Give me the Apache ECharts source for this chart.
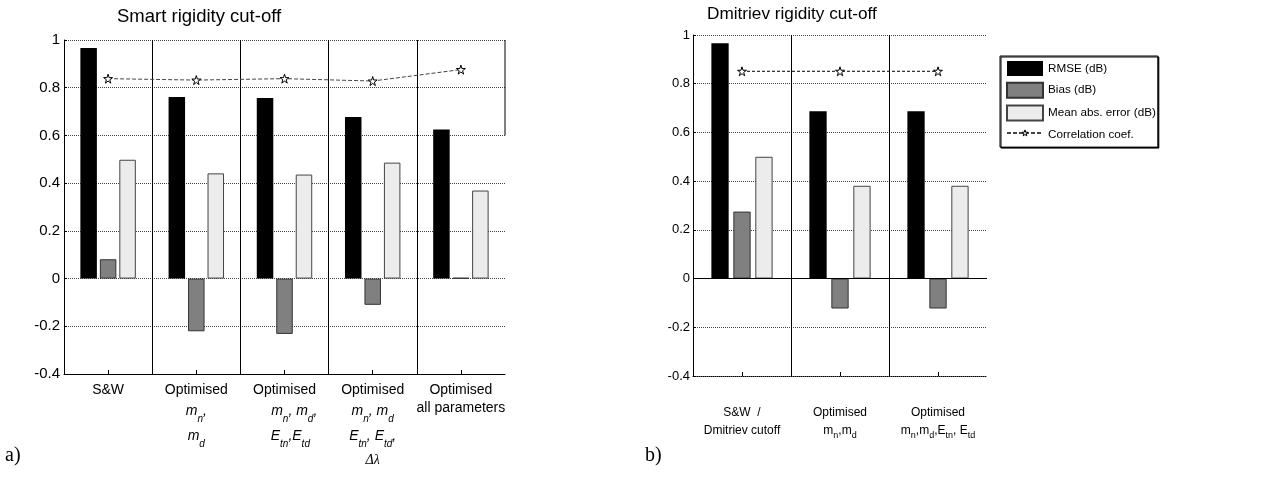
<!DOCTYPE html>
<html>
<head>
<meta charset="utf-8">
<script src="https://cdn.jsdelivr.net/npm/echarts@6/dist/echarts.min.js"></script>
<style>
  html, body { margin: 0; background: #fff; }
  #chart { width: 1284px; height: 485px; }
</style>
</head>
<body>
<div id="chart"></div>
<script>
// categories (rich text markup for the sub/italic parts)
const smartCats = [
  'S&W',
  'Optimised\n{i|m}{s|n}{i|,}\n{i|m}{s|d}',
  'Optimised\n     {i|m}{s|n}{i|, m}{s|d}{i|,}\n   {i|E}{s|tn}{i|,E}{s|td}',
  'Optimised\n{i|m}{s|n}{i|, m}{s|d}\n{i|E}{s|tn}{i|, E}{s|td}{i|,}\n{g|Δλ}',
  'Optimised\nall parameters'
]
const dmitCats = [
  'S&W  /\nDmitriev cutoff',
  'Optimised\nm{s|n},m{s|d}',
  'Optimised\nm{s|n},m{s|d},E{s|tn}, E{s|td}'
]

// values
const smartRmse = [0.966, 0.761, 0.757, 0.677, 0.625]
const smartBias = [0.081, -0.221, -0.232, -0.110, 0.003]
const smartMae  = [0.498, 0.441, 0.436, 0.486, 0.369]
const smartCorr = [0.838, 0.832, 0.838, 0.828, 0.876]

const dmitRmse = [0.966, 0.687, 0.687]
const dmitBias = [0.275, -0.123, -0.123]
const dmitMae  = [0.500, 0.381, 0.381]
const dmitCorr = [0.851, 0.851, 0.851]

const yTicks = [-0.4, -0.2, 0, 0.2, 0.4, 0.6, 0.8, 1]
// stray right border piece of plot a), in axis units
const edgeSeg = [[5, 1], [5, 0.6]]

const names = ['RMSE (dB)', 'Bias (dB)', 'Mean abs. error (dB)', 'Correlation coef.']

const FONT = 'Liberation Sans, Arial, sans-serif'
const STAR = 'path://M50,0 L61,35 L98,35 L68,57 L79,91 L50,70 L21,91 L32,57 L2,35 L39,35 Z'
const CLEAR = 'rgba(0,0,0,0)'

let myChart = echarts.init(document.getElementById('chart'))

function yAxisOpt(gi, fs, margin) {
  return {
    gridIndex: gi, type: 'value',
    min: yTicks[0], max: yTicks[yTicks.length - 1], interval: 0.2,
    axisLine: { show: true, lineStyle: { color: '#000', width: 1 } },
    axisTick: { show: true, inside: true, length: 3, lineStyle: { color: '#000' } },
    axisLabel: {
      color: '#000', fontFamily: FONT, fontSize: fs, margin: margin,
      formatter: v => String(+v.toFixed(1))
    },
    splitLine: { show: true, lineStyle: { color: '#444', type: 'dotted', width: 1 } }
  }
}

function xAxisOpt(gi, cats, label, lineType) {
  return {
    gridIndex: gi, type: 'category', data: cats,
    axisLine: { show: true, onZero: false, lineStyle: { color: '#000', width: 1, type: lineType } },
    axisTick: { show: true, inside: true, alignWithLabel: true, length: 4, lineStyle: { color: '#000' } },
    axisLabel: label,
    splitLine: { show: true, showMinLine: false, showMaxLine: false, lineStyle: { color: '#000', width: 1 } }
  }
}

const barA = { barWidth: 16.5, barGap: '18%' }
const barB = { barWidth: 17.3, barGap: '27%' }

let option = {
  animation: false,
  title: [
    { text: 'Smart rigidity cut-off', left: 117, top: 7, padding: 0,
      textStyle: { fontFamily: FONT, fontSize: 18.5, fontWeight: 'normal', color: '#000' } },
    { text: 'Dmitriev rigidity cut-off', left: 707, top: 6, padding: 0,
      textStyle: { fontFamily: FONT, fontSize: 17.2, fontWeight: 'normal', color: '#000' } }
  ],
  legend: [
    {
      // box with the bar swatches and all four texts
      data: [names[0], names[1], names[2],
        { name: names[3], itemStyle: { color: CLEAR, borderColor: CLEAR, borderWidth: 0 } }],
      icon: 'rect',
      orient: 'vertical', left: 1000, top: 56,
      itemWidth: 36, itemHeight: 15, itemGap: 5.7,
      padding: [5, 2, 5, 6],
      borderColor: '#000', borderWidth: 1, backgroundColor: '#fff',
      shadowColor: '#000', shadowOffsetX: 1, shadowOffsetY: 1, shadowBlur: 0,
      textStyle: { fontFamily: FONT, fontSize: 11.7, color: '#000' },
      selectedMode: false
    },
    {
      // the dashed line + small hollow star swatch, laid over row four
      data: [{ name: names[3], itemStyle: { color: '#fff', borderColor: '#000', borderWidth: 1 } }],
      orient: 'vertical', left: 1006, top: 126.9, padding: 0,
      itemWidth: 36, itemHeight: 7.5,
      textStyle: { fontFamily: FONT, fontSize: 11.7, color: CLEAR },
      selectedMode: false
    }
  ],
  grid: [
    { left: 64, top: 40, width: 441, height: 334 },
    { left: 693, top: 35, width: 294, height: 341 }
  ],
  xAxis: [
    xAxisOpt(0, smartCats, {
      color: '#000', fontFamily: FONT, fontSize: 14, lineHeight: 18, margin: 7, interval: 0,
      rich: {
        i: { fontFamily: FONT, fontStyle: 'italic', fontSize: 14, lineHeight: 25 },
        s: { fontFamily: FONT, fontStyle: 'italic', fontSize: 10, lineHeight: 12, verticalAlign: 'bottom' },
        g: { fontFamily: 'Liberation Serif, serif', fontStyle: 'italic', fontSize: 14, lineHeight: 22 }
      }
    }, 'solid'),
    xAxisOpt(1, dmitCats, {
      color: '#000', fontFamily: FONT, fontSize: 12, lineHeight: 18, margin: 28, interval: 0,
      rich: {
        s: { fontFamily: FONT, fontSize: 9, lineHeight: 10, verticalAlign: 'bottom' }
      }
    }, 'dotted'),
    { gridIndex: 0, type: 'value', min: 0, max: 5, show: false }
  ],
  yAxis: [yAxisOpt(0, 15, 4), yAxisOpt(1, 13, 3)],
  series: [
    Object.assign({ name: names[0], type: 'bar', xAxisIndex: 0, yAxisIndex: 0, data: smartRmse,
      itemStyle: { color: '#000' } }, barA),
    Object.assign({ name: names[1], type: 'bar', xAxisIndex: 0, yAxisIndex: 0, data: smartBias,
      itemStyle: { color: '#808080', borderColor: '#333', borderWidth: 1 } }, barA),
    Object.assign({ name: names[2], type: 'bar', xAxisIndex: 0, yAxisIndex: 0, data: smartMae,
      itemStyle: { color: '#ececec', borderColor: '#444', borderWidth: 1 } }, barA),
    { name: names[3], type: 'line', xAxisIndex: 0, yAxisIndex: 0, data: smartCorr,
      symbol: STAR, symbolSize: 9, z: 5,
      lineStyle: { color: '#444', width: 1, type: [4, 2] },
      itemStyle: { color: '#fff', borderColor: '#000', borderWidth: 1 } },
    { name: 'edge', type: 'line', xAxisIndex: 2, yAxisIndex: 0, data: edgeSeg,
      symbol: 'none', clip: false, silent: true,
      lineStyle: { color: '#000', width: 1 } },

    Object.assign({ name: names[0], type: 'bar', xAxisIndex: 1, yAxisIndex: 1, data: dmitRmse,
      itemStyle: { color: '#000' } }, barB),
    Object.assign({ name: names[1], type: 'bar', xAxisIndex: 1, yAxisIndex: 1, data: dmitBias,
      itemStyle: { color: '#808080', borderColor: '#333', borderWidth: 1 },
      markLine: { silent: true, symbol: 'none', label: { show: false },
        lineStyle: { color: '#000', width: 1, type: 'solid' }, data: [{ yAxis: 0 }] } }, barB),
    Object.assign({ name: names[2], type: 'bar', xAxisIndex: 1, yAxisIndex: 1, data: dmitMae,
      itemStyle: { color: '#ececec', borderColor: '#444', borderWidth: 1 } }, barB),
    { name: names[3], type: 'line', xAxisIndex: 1, yAxisIndex: 1, data: dmitCorr,
      symbol: STAR, symbolSize: 9, z: 5,
      lineStyle: { color: '#000', width: 1, type: [3, 2] },
      itemStyle: { color: '#fff', borderColor: '#000', borderWidth: 1 } }
  ],
  graphic: [
    { type: 'text', left: 5, top: 446, style: { text: 'a)', fontFamily: 'Liberation Serif, serif', fontSize: 20, fill: '#000' } },
    { type: 'text', left: 645, top: 446, style: { text: 'b)', fontFamily: 'Liberation Serif, serif', fontSize: 20, fill: '#000' } }
  ]
}

myChart.setOption(option)
</script>
</body>
</html>
